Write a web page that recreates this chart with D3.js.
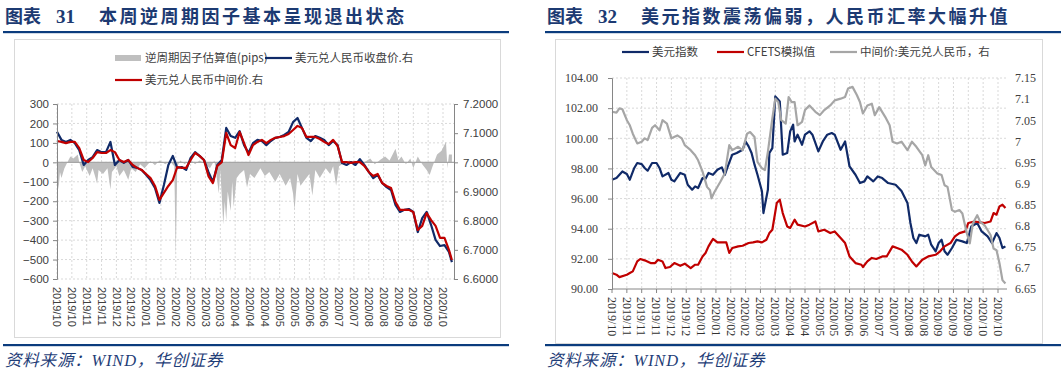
<!DOCTYPE html>
<html>
<head>
<meta charset="utf-8">
<script src="https://cdn.jsdelivr.net/npm/d3@7"></script>
<style>
body { margin: 0; background: #fff; }
svg { display: block; }
</style>
</head>
<body>
<svg width="1061" height="374"></svg>
<script>
// ---- left chart: counter-cyclical factor vs USDCNY ----
var leftTicks = ['2019/10','2019/10','2019/11','2019/11','2019/12','2019/12','2020/01','2020/01',
    '2020/02','2020/02','2020/03','2020/03','2020/04','2020/04','2020/04','2020/05','2020/05',
    '2020/06','2020/06','2020/07','2020/07','2020/08','2020/08','2020/09','2020/09','2020/09','2020/10'];

// trading-day index, one reading every 3 days
var leftDays = d3.range(0, 265, 3).concat([266]);

var closeL = [7.105,7.077,7.070,7.077,7.066,7.042,6.991,7.008,7.018,7.042,
    7.035,7.035,7.070,6.991,7.008,6.998,7.008,6.984,6.981,6.974,
    6.957,6.939,6.912,6.861,6.922,6.991,7.022,6.981,6.984,6.974,
    7.015,7.035,7.022,7.008,6.967,6.933,6.991,7.008,7.118,7.090,
    7.084,7.107,7.059,7.032,7.066,7.077,7.073,7.059,7.073,7.084,
    7.087,7.094,7.104,7.138,7.152,7.118,7.084,7.073,7.090,7.084,
    7.077,7.059,7.073,7.059,6.998,6.991,7.001,6.991,7.011,6.991,
    6.967,6.946,6.957,6.929,6.915,6.905,6.854,6.830,6.837,6.840,
    6.830,6.761,6.809,6.830,6.785,6.734,6.713,6.716,6.693,6.658];

var midL = [7.073,7.070,7.066,7.070,7.070,7.049,7.008,7.001,7.015,7.035,
    7.032,7.032,7.042,7.035,7.008,7.001,7.008,6.991,6.981,6.974,
    6.960,6.946,6.919,6.871,6.895,6.919,6.939,6.984,6.981,6.981,
    7.008,7.032,7.022,7.008,6.953,6.929,6.988,7.001,7.101,7.059,
    7.049,7.104,7.066,7.025,7.059,7.070,7.077,7.066,7.077,7.084,
    7.087,7.090,7.097,7.111,7.125,7.118,7.087,7.087,7.087,7.080,
    7.070,7.063,7.077,7.056,7.001,7.001,6.998,7.001,7.001,6.988,
    6.967,6.953,6.960,6.929,6.919,6.912,6.864,6.837,6.837,6.837,
    6.830,6.768,6.782,6.826,6.802,6.782,6.741,6.741,6.700,6.665];

// [day, pips]
var factor = [[0,-60],[1,-140],[2,-50],[3,-80],[5,-30],[7,0],[9,30],[11,20],[14,40],[15,0],
    [17,-50],[19,-20],[22,-70],[24,-30],[26,-80],[27,-110],[28,-40],[31,-60],[34,-30],[36,-140],
    [37,-50],[40,-20],[42,-70],[45,-40],[48,-90],[50,-30],[53,-50],[56,-10],[59,-30],[63,5],
    [66,-15],[69,10],[73,-10],[76,5],[79,-20],[80,-490],[81,-20],[83,10],[86,-10],[90,15],
    [93,-10],[96,10],[100,-10],[103,-30],[106,10],[108,-100],[109,-160],[110,-40],[112,-320],[113,-200],
    [114,-300],[115,-150],[117,-250],[118,-100],[119,-230],[121,-80],[123,-60],[126,-40],[128,-130],[130,-60],
    [133,-80],[137,-30],[140,-70],[143,-50],[147,-100],[150,-60],[154,-120],[157,-80],[159,-160],[160,-245],
    [162,-60],[164,-120],[167,-90],[170,-60],[172,-170],[174,-40],[177,-80],[181,-30],[184,-60],[186,-20],
    [188,-120],[190,-20],[194,0],[197,10],[201,-10],[204,10],[207,0],[211,20],[214,-10],[218,15],
    [221,30],[224,10],[228,70],[230,10],[232,30],[235,-10],[238,20],[240,-30],[243,30],[246,-10],
    [249,-40],[251,-65],[253,-20],[256,40],[259,60],[261,90],[262,106],[263,-30],[264,40],[266,40]];

// ---- right chart: dollar index, CFETS, USDCNY fixing ----
var rightTicks = ['2019/10','2019/11','2019/11','2019/11','2019/12','2019/12','2020/01','2020/01',
    '2020/02','2020/02','2020/03','2020/03','2020/04','2020/04','2020/05','2020/05','2020/06',
    '2020/06','2020/07','2020/07','2020/08','2020/08','2020/09','2020/09','2020/09','2020/10','2020/10'];

var usdIndex = [[0,97.25],[3,97.36],[7,97.8],[10,97.63],[12,97.25],[15,98.03],[17,98.36],[20,98.29],
    [22,98.03],[24,97.85],[27,98.36],[30,98.36],[32,98.03],[34,97.47],[38,97.7],[40,97.25],[42,97.14],
    [46,97.7],[49,97.58],[51,96.92],[54,96.59],[56,96.81],[58,96.7],[61,97.36],[63,97.32],[65,97.7],
    [68,97.58],[71,97.91],[74,98.07],[76,97.58],[78,98.13],[81,98.91],[84,99.02],[88,99.24],[90,99.79],
    [92,99.46],[94,99.02],[96,98.25],[98,97.58],[101,96.48],[102,95.04],[105,96.59],[106,99.02],[108,99.35],
    [110,102.78],[112,102.56],[113,102.45],[115,98.91],[118,99.02],[120,100.46],[122,100.9],[123,99.79],
    [125,100.24],[128,99.57],[130,100.24],[133,100.46],[135,100.24],[139,99.13],[142,99.79],[145,100.24],
    [148,100.35],[150,100.24],[154,99.24],[157,99.79],[160,98.13],[164,97.58],[167,97.03],[170,97.14],
    [172,97.47],[176,97.14],[179,97.47],[182,97.36],[186,97.03],[191,96.92],[195,96.5],[199,95.71],
    [201,94.38],[203,93.38],[205,93.05],[207,93.6],[211,93.49],[213,93.6],[215,92.94],[218,92.5],
    [220,93.05],[222,93.27],[224,92.5],[226,92.27],[229,92.72],[232,93.27],[236,93.16],[239,93.05],
    [242,94.15],[246,94.38],[249,93.82],[253,93.49],[256,93.05],[259,93.71],[261,93.38],[263,92.72],[265,92.83]];

var cfets = [[0,91.06],[3,90.95],[5,90.79],[10,90.95],[12,91.06],[14,91.17],[17,91.83],[19,91.99],
    [22,91.9],[26,91.72],[29,91.72],[31,91.94],[34,91.83],[36,91.39],[39,91.46],[42,91.72],[46,91.54],
    [49,91.68],[53,91.39],[56,91.61],[58,91.61],[61,92.16],[63,92.39],[65,92.83],[67,93.16],[68,93.32],
    [71,93.09],[75,93.09],[77,93.09],[79,92.39],[81,92.72],[85,92.83],[88,92.87],[92,93.05],[95,93.09],
    [98,93.16],[101,93.09],[104,93.27],[106,93.71],[108,93.93],[111,95.71],[113,95.93],[115,95.04],
    [118,94.15],[120,94.05],[123,94.6],[125,94.27],[130,94.15],[133,94.27],[137,94.48],[139,93.82],
    [143,93.93],[147,93.71],[150,93.82],[154,93.38],[157,93.05],[160,92.16],[164,91.72],[168,91.61],
    [169,91.46],[172,91.83],[175,92.06],[178,91.99],[182,92.16],[185,92.16],[189,92.83],[192,92.72],
    [195,92.61],[199,92.27],[202,91.83],[205,91.5],[209,91.94],[213,92.16],[218,92.27],[221,92.5],
    [224,92.83],[228,93.05],[231,93.49],[234,93.71],[238,93.82],[240,94.38],[244,94.48],[248,94.42],
    [251,94.38],[255,94.48],[257,95.04],[259,94.93],[261,95.48],[263,95.59],[265,95.37]];

var fixing = [[0,7.070],[3,7.068],[5,7.078],[7,7.076],[10,7.050],[12,7.038],[14,7.018],[17,6.995],
    [20,6.999],[22,7.007],[24,7.003],[27,7.032],[29,7.038],[32,7.026],[34,7.050],[37,7.042],[40,7.007],
    [44,7.014],[47,7.007],[49,6.991],[53,6.979],[56,6.967],[58,6.955],[61,6.928],[64,6.892],[66,6.884],
    [67,6.865],[69,6.880],[73,6.904],[76,6.924],[79,6.991],[81,6.979],[85,6.987],[88,6.979],[91,7.018],
    [93,7.022],[96,7.010],[98,6.951],[101,6.936],[103,6.932],[105,6.975],[108,7.054],[110,7.101],
    [112,7.093],[114,7.050],[117,7.042],[119,7.105],[121,7.093],[123,7.093],[125,7.038],[128,7.046],
    [130,7.074],[133,7.085],[137,7.070],[140,7.062],[143,7.074],[147,7.085],[150,7.097],[154,7.101],
    [157,7.105],[159,7.125],[162,7.129],[165,7.109],[167,7.093],[169,7.066],[172,7.085],[175,7.089],
    [177,7.062],[180,7.081],[184,7.058],[187,7.038],[189,6.999],[192,6.995],[195,6.999],[199,6.979],
    [202,6.999],[205,6.987],[209,6.967],[211,6.943],[213,6.967],[215,6.939],[219,6.924],[222,6.920],
    [224,6.896],[226,6.892],[229,6.837],[231,6.833],[234,6.837],[236,6.829],[239,6.782],[241,6.758],
    [243,6.805],[246,6.825],[248,6.809],[251,6.801],[255,6.778],[257,6.746],[259,6.742],[261,6.711],
    [263,6.671],[265,6.663]];

var NAVY = '#102a68', RED = '#c00000', GREY = '#a6a6a6', AREA = '#bfbfbf';
var INK = '#404040', BLUE = '#0b3c7d', GRID = '#d9d9d9';
var CJK = '"Noto Sans CJK SC", sans-serif';

var svg = d3.select('svg');

// title, rules, frame and source for one panel
function panel(x0, ruleX1, num, title, box) {
    var g = svg.append('g');
    g.append('text').attr('x', x0).attr('y', 23)
        .style('font-family', '"Liberation Serif", ' + CJK)
        .style('font-weight', 'bold').style('font-size', '18px')
        .style('fill', '#1c3a72')
        .text('图表');
    g.append('text').attr('x', x0 + 51).attr('y', 23)
        .style('font-family', '"Liberation Serif", serif')
        .style('font-weight', 'bold').style('font-size', '19px')
        .style('fill', '#1c3a72')
        .text(num);
    g.append('text').attr('x', x0 + 94).attr('y', 23)
        .style('font-family', CJK)
        .style('font-weight', 'bold').style('font-size', '18px')
        .style('letter-spacing', '2.5px')
        .style('fill', '#1c3a72')
        .text(title);
    g.append('rect').attr('x', x0 - 2).attr('y', 31).attr('width', ruleX1 - x0 + 2).attr('height', 2.2)
        .attr('fill', BLUE);
    g.append('rect').attr('x', box[0] + 0.5).attr('y', box[1] + 0.5)
        .attr('width', box[2]).attr('height', box[3])
        .attr('fill', 'none').attr('stroke', GRID);
    g.append('rect').attr('x', x0 - 2).attr('y', 344).attr('width', ruleX1 - x0 + 2).attr('height', 2.2)
        .attr('fill', BLUE);
    g.append('text').attr('x', x0).attr('y', 366)
        .style('font-family', '"Liberation Serif", ' + CJK)
        .style('font-style', 'italic').style('font-size', '16.5px')
        .style('letter-spacing', '0.8px')
        .style('fill', '#1f3e78')
        .text('资料来源：WIND，华创证券');
}

function styleAxis(sel, font, size) {
    sel.selectAll('text').style('font-family', font).style('font-size', size).style('fill', INK);
    sel.selectAll('line').attr('stroke', '#868686');
    sel.select('.domain').attr('stroke', '#868686');
}

function legendItem(g, x, y, color, kind, label) {
    if (kind === 'rect') {
        g.append('rect').attr('x', x).attr('y', y - 3).attr('width', 26).attr('height', 6).attr('fill', color);
    } else {
        g.append('line').attr('x1', x).attr('x2', x + 27).attr('y1', y).attr('y2', y)
            .attr('stroke', color).attr('stroke-width', 2.2);
    }
    g.append('text').attr('x', x + 30).attr('y', y + 4)
        .style('font-family', CJK).style('font-size', '11.5px').style('fill', INK)
        .text(label);
}

function leftChart() {
    var g = svg.append('g');
    var x = d3.scaleLinear().domain([0, 260]).range([57, 443]);
    var yP = d3.scaleLinear().domain([-600, 300]).range([279, 104]);
    var yF = d3.scaleLinear().domain([6.6, 7.2]).range([279, 104]);
    var xEnd = 454;

    g.selectAll('.hg').data(d3.range(-600, 301, 100)).enter().append('line')
        .attr('x1', 57).attr('x2', xEnd).attr('y1', yP).attr('y2', yP)
        .attr('stroke', GRID).attr('stroke-dasharray', '2,2');
    g.selectAll('.vg').data(leftTicks).enter().append('line')
        .attr('x1', function (d, i) { return x(i * 10); })
        .attr('x2', function (d, i) { return x(i * 10); })
        .attr('y1', 104).attr('y2', 279)
        .attr('stroke', GRID).attr('stroke-dasharray', '2,2');

    g.append('path').datum(factor)
        .attr('fill', AREA)
        .attr('d', d3.area()
            .x(function (d) { return x(d[0]); })
            .y0(yP(0))
            .y1(function (d) { return yP(d[1]); }));

    g.append('line').attr('x1', 57).attr('x2', xEnd).attr('y1', yP(0)).attr('y2', yP(0))
        .attr('stroke', '#a6a6a6').attr('stroke-width', 1.2);

    var line = function (yv) {
        return d3.line()
            .x(function (d, i) { return x(leftDays[i]); })
            .y(function (d) { return yF(d); });
    };
    g.append('path').datum(closeL).attr('fill', 'none').attr('stroke', NAVY)
        .attr('stroke-width', 2.2).attr('stroke-linejoin', 'round').attr('d', line());
    g.append('path').datum(midL).attr('fill', 'none').attr('stroke', RED)
        .attr('stroke-width', 2.2).attr('stroke-linejoin', 'round').attr('d', line());

    g.append('g').attr('transform', 'translate(57,0)')
        .call(d3.axisLeft(yP).tickValues(d3.range(-600, 301, 100)).tickSize(4).tickPadding(4))
        .call(styleAxis, '"Liberation Sans", Arial, sans-serif', '11.5px');
    g.append('g').attr('transform', 'translate(' + xEnd + ',0)')
        .call(d3.axisRight(yF).tickValues(d3.range(6.6, 7.25, 0.1)).tickFormat(d3.format('.4f'))
            .tickSize(4).tickPadding(5))
        .call(styleAxis, '"Liberation Sans", Arial, sans-serif', '11.5px');

    g.selectAll('.xl').data(leftTicks).enter().append('text')
        .attr('transform', function (d, i) { return 'translate(' + x(i * 10) + ',287) rotate(90)'; })
        .attr('dy', '0.35em')
        .style('font-family', '"Liberation Sans", Arial, sans-serif')
        .style('font-size', '11px').style('fill', INK)
        .text(function (d) { return d; });

    legendItem(g, 115, 58, AREA, 'rect', '逆周期因子估算值(pips)');
    legendItem(g, 265, 58, NAVY, 'line', '美元兑人民币收盘价.右');
    legendItem(g, 115, 80, RED, 'line', '美元兑人民币中间价.右');
}

function rightChart() {
    var g = svg.append('g');
    var x = d3.scaleLinear().domain([0, 260]).range([612, 998]);
    var yI = d3.scaleLinear().domain([90, 104]).range([289, 78]);
    var yM = d3.scaleLinear().domain([6.65, 7.15]).range([289, 78]);
    var xEnd = 1007;
    var serif = '"Liberation Serif", "Times New Roman", serif';

    g.selectAll('.hg').data(d3.range(92, 104.1, 2)).enter().append('line')
        .attr('x1', 612).attr('x2', xEnd).attr('y1', yI).attr('y2', yI)
        .attr('stroke', GRID).attr('stroke-dasharray', '2,2');
    g.selectAll('.vg').data(rightTicks.slice(1)).enter().append('line')
        .attr('x1', function (d, i) { return x((i + 1) * 10); })
        .attr('x2', function (d, i) { return x((i + 1) * 10); })
        .attr('y1', 78).attr('y2', 289)
        .attr('stroke', GRID).attr('stroke-dasharray', '2,2');

    var lineI = d3.line().x(function (d) { return x(d[0]); }).y(function (d) { return yI(d[1]); });
    var lineM = d3.line().x(function (d) { return x(d[0]); }).y(function (d) { return yM(d[1]); });

    g.append('path').datum(usdIndex).attr('fill', 'none').attr('stroke', NAVY)
        .attr('stroke-width', 2.2).attr('stroke-linejoin', 'round').attr('d', lineI);
    g.append('path').datum(cfets).attr('fill', 'none').attr('stroke', RED)
        .attr('stroke-width', 2.2).attr('stroke-linejoin', 'round').attr('d', lineI);
    g.append('path').datum(fixing).attr('fill', 'none').attr('stroke', GREY)
        .attr('stroke-width', 2.2).attr('stroke-linejoin', 'round').attr('d', lineM);

    g.append('g').attr('transform', 'translate(612,0)')
        .call(d3.axisLeft(yI).tickValues(d3.range(90, 104.1, 2)).tickFormat(d3.format('.2f'))
            .tickSize(4).tickPadding(10))
        .call(styleAxis, serif, '12px');

    // category axis along the bottom
    g.append('line').attr('x1', 612).attr('x2', xEnd).attr('y1', 289).attr('y2', 289)
        .attr('stroke', '#868686');
    g.selectAll('.xt').data(rightTicks).enter().append('line')
        .attr('x1', function (d, i) { return x(i * 10); })
        .attr('x2', function (d, i) { return x(i * 10); })
        .attr('y1', 289).attr('y2', 293).attr('stroke', '#868686');
    g.selectAll('.xl').data(rightTicks).enter().append('text')
        .attr('transform', function (d, i) { return 'translate(' + x(i * 10) + ',297) rotate(90)'; })
        .attr('dy', '0.35em')
        .style('font-family', serif).style('font-size', '12px').style('fill', '#333')
        .text(function (d) { return d; });

    var ra = g.append('g').attr('transform', 'translate(' + xEnd + ',0)')
        .call(d3.axisRight(yM).tickValues(d3.range(6.65, 7.16, 0.05))
            .tickFormat(function (d) { return String(+d.toFixed(2)); })
            .tickSize(0).tickPadding(8))
        .call(styleAxis, serif, '12px');
    ra.select('.domain').remove();

    legendItem(g, 622, 52, NAVY, 'line', '美元指数');
    legendItem(g, 717, 52, RED, 'line', 'CFETS模拟值');
    legendItem(g, 830, 52, GREY, 'line', '中间价:美元兑人民币，右');
}

panel(5, 509, '31', '本周逆周期因子基本呈现退出状态', [14, 39, 486, 298]);
panel(547, 1061, '32', '美元指数震荡偏弱，人民币汇率大幅升值', [555, 39, 487, 304]);
leftChart();
rightChart();
</script>
</body>
</html>
